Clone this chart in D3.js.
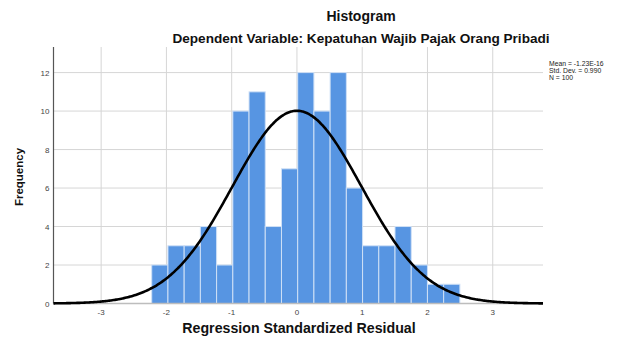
<!DOCTYPE html>
<html>
<head>
<meta charset="utf-8">
<script src="https://cdn.jsdelivr.net/npm/d3@7"></script>
<style>
  html, body { margin: 0; padding: 0; background: #fff; }
  svg { display: block; }
</style>
</head>
<body>
<svg id="chart" width="619" height="338"></svg>
<script>
// Histogram of standardized residuals (SPSS style)
const binStart = -2.225;
const binWidth = 0.2485;
const counts = [2, 3, 3, 4, 2, 10, 11, 4, 7, 12, 10, 12, 6, 3, 3, 4, 2, 1, 1];
const xTicks = [-3, -2, -1, 0, 1, 2, 3];
const yTicks = [0, 2, 4, 6, 8, 10, 12];
const stats = { mean: -1.23e-16, sd: 0.990, n: 100 };
const legendLines = ['Mean = -1.23E-16', 'Std. Dev. = 0.990', 'N = 100'];

const W = 619, H = 338;
const m = { left: 53.5, right: 76, top: 47, bottom: 34.5 };

const svg = d3.select('#chart');
const font = 'Arial, "Liberation Sans", sans-serif';

const x = d3.scaleLinear().domain([-3.73, 3.77]).range([m.left, W - m.right]);
const y = d3.scaleLinear().domain([0, 13.33]).range([H - m.bottom, m.top]);

const bins = counts.map(function(c, i) {
    return { x0: binStart + i * binWidth, x1: binStart + (i + 1) * binWidth, count: c };
});

// Grid
svg.append('g').selectAll('line').data(yTicks.filter(function(d) { return d > 0; }))
    .join('line')
    .attr('x1', m.left).attr('x2', W - m.right)
    .attr('y1', function(d) { return y(d); }).attr('y2', function(d) { return y(d); })
    .attr('stroke', '#d6d6d6').attr('stroke-width', 1);

svg.append('g').selectAll('line').data(xTicks)
    .join('line')
    .attr('x1', function(d) { return x(d); }).attr('x2', function(d) { return x(d); })
    .attr('y1', m.top).attr('y2', H - m.bottom)
    .attr('stroke', '#d6d6d6').attr('stroke-width', 1);

// Bars
svg.append('g').selectAll('rect').data(bins)
    .join('rect')
    .attr('x', function(d) { return x(d.x0); })
    .attr('width', function(d) { return x(d.x1) - x(d.x0); })
    .attr('y', function(d) { return y(d.count); })
    .attr('height', function(d) { return y(0) - y(d.count); })
    .attr('fill', '#5795e2')
    .attr('stroke', '#cfe0f6')
    .attr('stroke-width', 1);

// Axes lines
svg.append('line')
    .attr('x1', m.left).attr('x2', W - m.right)
    .attr('y1', y(0)).attr('y2', y(0))
    .attr('stroke', '#bdbdbd').attr('stroke-width', 1.5);
svg.append('line')
    .attr('x1', m.left).attr('x2', m.left)
    .attr('y1', m.top).attr('y2', y(0))
    .attr('stroke', '#555').attr('stroke-width', 1.2);

// Normal curve
const pdf = function(v) {
    const z = (v - stats.mean) / stats.sd;
    return stats.n * binWidth * Math.exp(-0.5 * z * z) / (stats.sd * Math.sqrt(2 * Math.PI));
};
const curvePts = d3.range(-3.73, 3.7701, 0.02).map(function(v) { return [v, pdf(v)]; });
svg.append('path')
    .datum(curvePts)
    .attr('d', d3.line().x(function(d) { return x(d[0]); }).y(function(d) { return y(d[1]); }).curve(d3.curveBasis))
    .attr('fill', 'none')
    .attr('stroke', '#000')
    .attr('stroke-width', 2.6);

// Tick labels
svg.append('g').selectAll('text').data(yTicks)
    .join('text')
    .attr('x', m.left - 4).attr('y', function(d) { return y(d) + 3; })
    .attr('text-anchor', 'end')
    .attr('font-family', font).attr('font-size', '8px')
    .attr('fill', '#444')
    .text(function(d) { return d; });

svg.append('g').selectAll('text').data(xTicks)
    .join('text')
    .attr('x', function(d) { return x(d); }).attr('y', H - m.bottom + 11.5)
    .attr('text-anchor', 'middle')
    .attr('font-family', font).attr('font-size', '8px')
    .attr('fill', '#444')
    .text(function(d) { return d; });

// Titles
svg.append('text')
    .attr('x', 361).attr('y', 21)
    .attr('text-anchor', 'middle')
    .attr('font-family', font).attr('font-size', '14px').attr('font-weight', 'bold')
    .attr('fill', '#111')
    .text('Histogram');
svg.append('text')
    .attr('x', 361).attr('y', 43)
    .attr('text-anchor', 'middle')
    .attr('font-family', font).attr('font-size', '13.6px').attr('font-weight', 'bold')
    .attr('fill', '#111')
    .text('Dependent Variable: Kepatuhan Wajib Pajak Orang Pribadi');
svg.append('text')
    .attr('x', 299).attr('y', 333)
    .attr('text-anchor', 'middle')
    .attr('font-family', font).attr('font-size', '14.2px').attr('font-weight', 'bold')
    .attr('fill', '#111')
    .text('Regression Standardized Residual');
svg.append('text')
    .attr('transform', 'translate(23,177) rotate(-90)')
    .attr('text-anchor', 'middle')
    .attr('font-family', font).attr('font-size', '11.5px').attr('font-weight', 'bold')
    .attr('fill', '#111')
    .text('Frequency');

// Stats legend
svg.append('g').selectAll('text').data(legendLines)
    .join('text')
    .attr('x', 549).attr('y', function(d, i) { return 66 + i * 7; })
    .attr('font-family', font).attr('font-size', '6.8px')
    .attr('fill', '#222')
    .text(function(d) { return d; });
</script>
</body>
</html>
